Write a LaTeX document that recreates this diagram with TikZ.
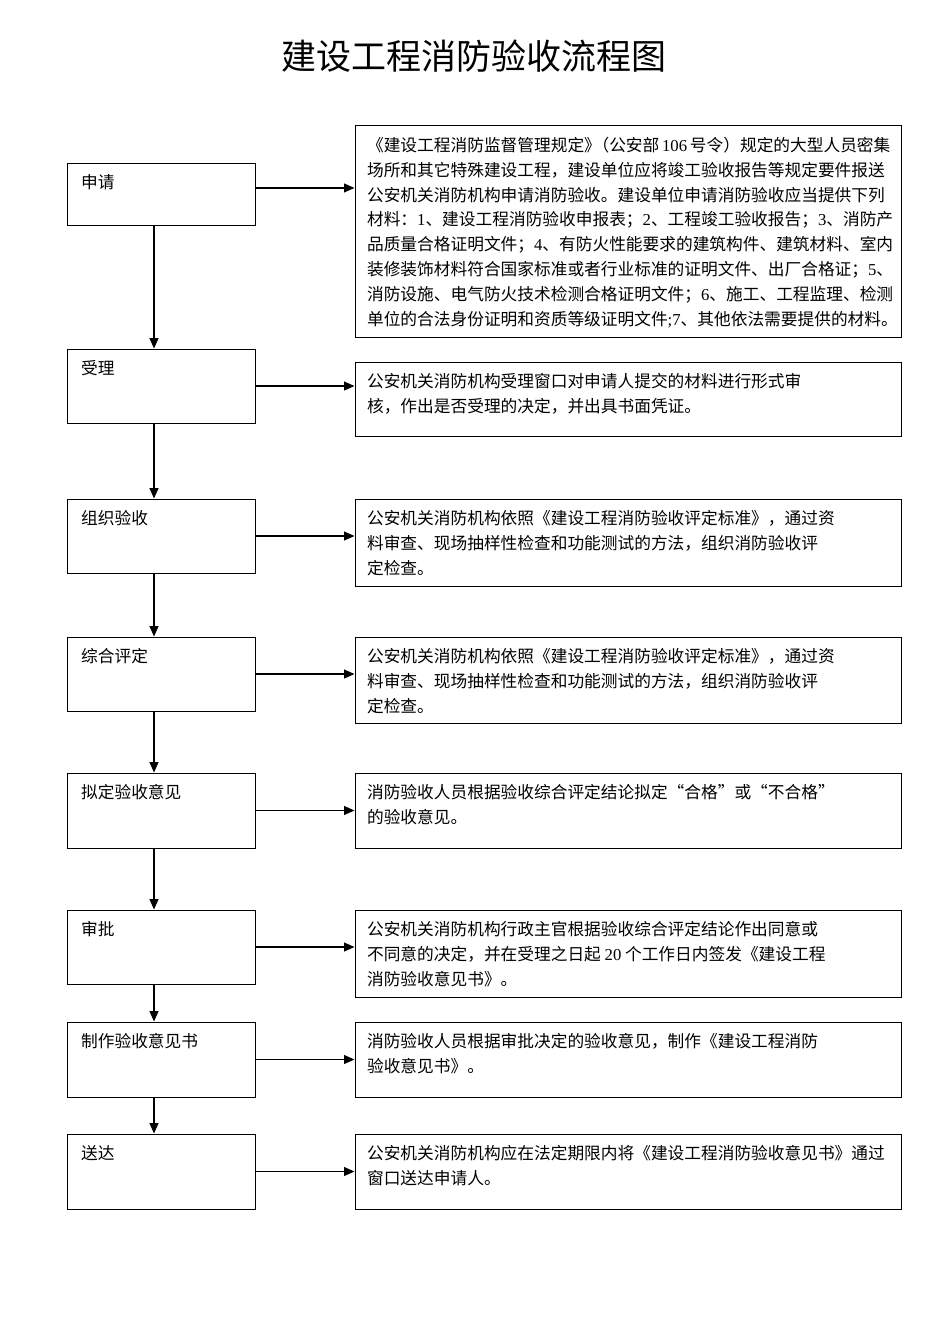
\documentclass[tikz,border=0pt]{standalone}
\usepackage{fontspec}
\setmainfont{Noto Sans CJK SC}
\newfontfamily\latin{Liberation Serif}
\usetikzlibrary{arrows.meta,fit}
\newcommand\digits[1]{{\latin #1}}
\tikzset{
  stepbox/.style={draw, line width=0.6pt, inner sep=0pt},
  steptext/.style={anchor=north west, inner xsep=9pt, inner ysep=7.5pt, align=left,
    font=\fontsize{10.5}{15.7}\selectfont},
  notetext/.style={steptext, inner xsep=7.7pt},
  flow/.style={-{Triangle[length=6.5pt,width=5.5pt]}, line width=0.8pt},
  down/.style={flow, line width=1.1pt},
}
\begin{document}
\begin{tikzpicture}[x=0.6287pt,y=-0.6287pt]
\useasboundingbox (0,0) rectangle (950,1344);
\node (title) at (474,56) {\fontsize{22}{26}\selectfont 建设工程消防验收流程图};
\coordinate (spine) at (154,0);
% left column: steps
\node[stepbox, fit={(67,163) (255,225)}] (apply) {};
\node[steptext] (apply-t) at (apply.north west) {申请};
\node[stepbox, fit={(67,349) (255,423)}] (accept) {};
\node[steptext] (accept-t) at (accept.north west) {受理};
\node[stepbox, fit={(67,499) (255,573)}] (organize) {};
\node[steptext] (organize-t) at (organize.north west) {组织验收};
\node[stepbox, fit={(67,637) (255,711)}] (evaluate) {};
\node[steptext] (evaluate-t) at (evaluate.north west) {综合评定};
\node[stepbox, fit={(67,773) (255,848)}] (draft) {};
\node[steptext] (draft-t) at (draft.north west) {拟定验收意见};
\node[stepbox, fit={(67,910) (255,984)}] (approve) {};
\node[steptext] (approve-t) at (approve.north west) {审批};
\node[stepbox, fit={(67,1022) (255,1097)}] (issue) {};
\node[steptext] (issue-t) at (issue.north west) {制作验收意见书};
\node[stepbox, fit={(67,1134) (255,1209)}] (deliver) {};
\node[steptext] (deliver-t) at (deliver.north west) {送达};
% right column: notes
\node[stepbox, fit={(355,125) (901,337)}] (apply-r) {};
\node[notetext] (apply-n) at (apply-r.north west) {《建设工程消防监督管理规定》\kern-.5em（公安部\,\digits{106}\,号令）规定的大型人员密集\\
场所和其它特殊建设工程，建设单位应将竣工验收报告等规定要件报送\\
公安机关消防机构申请消防验收。建设单位申请消防验收应当提供下列\\
材料：\digits{1}、建设工程消防验收申报表；\digits{2}、工程竣工验收报告；\digits{3}、消防产\\
品质量合格证明文件；\digits{4}、有防火性能要求的建筑构件、建筑材料、室内\\
装修装饰材料符合国家标准或者行业标准的证明文件、出厂合格证；\digits{5}、\\
消防设施、电气防火技术检测合格证明文件；\digits{6}、施工、工程监理、检测\\
单位的合法身份证明和资质等级证明文件\digits{;7}、其他依法需要提供的材料。};
\node[stepbox, fit={(355,362) (901,436)}] (accept-r) {};
\node[notetext] (accept-n) at (accept-r.north west) {公安机关消防机构受理窗口对申请人提交的材料进行形式审\\
核，作出是否受理的决定，并出具书面凭证。};
\node[stepbox, fit={(355,499) (901,586)}] (organize-r) {};
\node[notetext] (organize-n) at (organize-r.north west) {公安机关消防机构依照《建设工程消防验收评定标准》，通过资\\
料审查、现场抽样性检查和功能测试的方法，组织消防验收评\\
定检查。};
\node[stepbox, fit={(355,637) (901,723)}] (evaluate-r) {};
\node[notetext] (evaluate-n) at (evaluate-r.north west) {公安机关消防机构依照《建设工程消防验收评定标准》，通过资\\
料审查、现场抽样性检查和功能测试的方法，组织消防验收评\\
定检查。};
\node[stepbox, fit={(355,773) (901,848)}] (draft-r) {};
\node[notetext] (draft-n) at (draft-r.north west) {消防验收人员根据验收综合评定结论拟定“合格”或“不合格”\\
的验收意见。};
\node[stepbox, fit={(355,910) (901,997)}] (approve-r) {};
\node[notetext] (approve-n) at (approve-r.north west) {公安机关消防机构行政主官根据验收综合评定结论作出同意或\\
不同意的决定，并在受理之日起 \digits{20} 个工作日内签发《建设工程\\
消防验收意见书》。};
\node[stepbox, fit={(355,1022) (901,1097)}] (issue-r) {};
\node[notetext] (issue-n) at (issue-r.north west) {消防验收人员根据审批决定的验收意见，制作《建设工程消防\\
验收意见书》。};
\node[stepbox, fit={(355,1134) (901,1209)}] (deliver-r) {};
\node[notetext] (deliver-n) at (deliver-r.north west) {公安机关消防机构应在法定期限内将《建设工程消防验收意见书》通过\\
窗口送达申请人。};
% down the steps
\draw[down] (apply.south -| spine) -- (accept.north -| spine);
\draw[down] (accept.south -| spine) -- (organize.north -| spine);
\draw[down] (organize.south -| spine) -- (evaluate.north -| spine);
\draw[down] (evaluate.south -| spine) -- (draft.north -| spine);
\draw[down] (draft.south -| spine) -- (approve.north -| spine);
\draw[down] (approve.south -| spine) -- (issue.north -| spine);
\draw[down] (issue.south -| spine) -- (deliver.north -| spine);
% across to the notes
\draw[flow] ([yshift=3.8pt]apply.east) -- ([yshift=3.8pt]apply.east -| apply-r.west);
\draw[flow] (accept.east) -- (accept.east -| accept-r.west);
\draw[flow] (organize.east) -- (organize.east -| organize-r.west);
\draw[flow] (evaluate.east) -- (evaluate.east -| evaluate-r.west);
\draw[flow] (draft.east) -- (draft.east -| draft-r.west);
\draw[flow] (approve.east) -- (approve.east -| approve-r.west);
\draw[flow] (issue.east) -- (issue.east -| issue-r.west);
\draw[flow] (deliver.east) -- (deliver.east -| deliver-r.west);
\end{tikzpicture}
\end{document}
